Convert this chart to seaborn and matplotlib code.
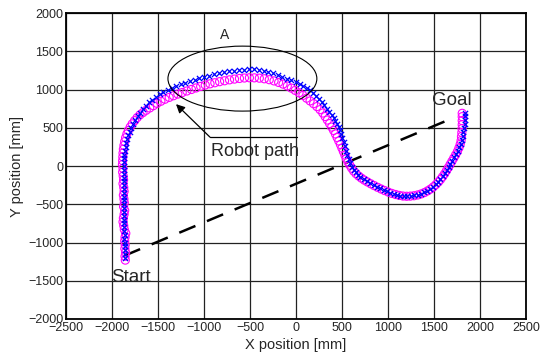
import matplotlib
matplotlib.use("Agg")
import matplotlib.pyplot as plt
from matplotlib.patches import Ellipse
import seaborn as sns
import pandas as pd

# ---- data ----
blue_x = [-1858,-1860,-1858,-1862,-1860,-1864,-1862,-1866,-1864,-1868,-1866,-1868,-1866,-1870,
          -1868,-1870,-1868,-1872,-1870,-1872,-1870,-1874,-1872,-1874,-1872,-1870,-1868,
          -1865,-1860,-1853,-1845,-1835,-1822,-1806,-1788,-1768,-1745,-1720,-1692,-1662,-1630,
          -1596,-1560,-1522,-1482,-1440,-1396,-1350,-1302,-1254,-1204,-1154,-1102,-1050,-998,
          -946,-892,-838,-784,-730,-676,-622,-568,-514,-460,-406,-352,-300,-250,-200,-150,-100,
          -50,0,40,80,118,156,190,222,254,283,310,336,360,391,410,428,446,464,478,492,505,518,
          530,542,554,572,591,609,627,650,674,699,735,770,808,845,880,916,953,990,1026,1062,
          1098,1135,1172,1210,1248,1285,1322,1358,1393,1428,1460,1490,1518,1545,1570,1594,1616,
          1638,1660,1680,1700,1720,1740,1760,1776,1790,1802,1812,1820,1828,1833,1837,1839,1840]
blue_y = [-1200,-1150,-1100,-1050,-1000,-950,-900,-850,-800,-750,-700,-650,-600,-550,
          -500,-450,-400,-350,-300,-250,-200,-150,-100,-50,0,50,100,
          150,200,250,300,350,400,450,500,550,600,650,700,745,790,
          832,870,905,938,968,996,1022,1046,1070,1092,1112,1132,1150,1168,
          1184,1200,1214,1226,1238,1248,1256,1262,1265,1264,1258,1248,1232,1212,1190,1166,1142,
          1120,1100,1078,1052,1022,991,956,918,878,839,796,752,708,665,624,584,548,513,466,418,367,317,
          260,200,143,88,35,-10,-52,-82,-112,-139,-168,-197,-226,-250,-272,-293,-313,-332,-350,-365,
          -378,-388,-394,-395,-391,-384,-374,-360,-342,-320,-296,-268,-238,-205,-170,-134,-96,
          -56,-14,30,72,114,156,200,246,294,344,396,448,500,552,604,656,700]

mag_x = [-1855,-1858,-1852,-1860,-1856,-1862,-1858,-1850,-1866,-1872,-1880,-1876,-1868,-1862,
         -1874,-1866,-1870,-1876,-1868,-1872,-1880,-1874,-1878,-1884,-1880,-1886,-1884,-1882,
         -1880,-1876,-1870,-1862,-1852,-1838,-1822,-1802,-1780,-1754,-1726,-1696,-1663,-1628,
         -1590,-1550,-1510,-1468,-1424,-1378,-1332,-1284,-1236,-1186,-1136,-1086,-1036,-986,
         -934,-882,-830,-776,-722,-668,-614,-560,-506,-452,-398,-344,-290,-238,-188,-140,-94,
         -50,-8,34,76,116,154,192,228,262,292,318,342,366,388,410,430,448,466,484,500,516,532,
         548,566,586,606,628,654,682,712,744,778,814,850,888,926,964,1004,1044,1084,1124,1164,
         1204,1244,1284,1324,1362,1398,1432,1464,1494,1522,1548,1572,1594,1616,1636,1656,1676,
         1696,1716,1736,1756,1772,1786,1796,1800,1804,1806,1808,1808,1808,1808]
mag_y = [-1230,-1180,-1130,-1080,-1030,-980,-930,-880,-830,-780,-730,-680,-630,-580,
         -530,-480,-430,-380,-330,-280,-230,-180,-130,-80,-30,20,70,120,
         170,220,270,320,370,420,465,510,552,594,634,670,700,730,
         760,790,820,848,874,898,920,942,962,982,1002,1022,1042,1060,
         1076,1090,1104,1116,1128,1138,1146,1152,1155,1154,1150,1142,1130,1114,1094,1072,1048,
         1020,990,958,924,888,852,816,778,738,694,648,602,556,510,466,420,374,328,282,236,190,144,
         98,54,12,-28,-66,-100,-130,-158,-184,-208,-232,-255,-278,-300,-320,-340,-358,-372,-384,-392,
         -395,-393,-388,-378,-364,-346,-324,-300,-272,-242,-210,-176,-140,-102,-62,-22,20,
         62,104,146,190,236,284,334,386,438,490,542,594,646,690]

start_goal_x = [-1870, 1730]
start_goal_y = [-1175, 640]

ellipse_center = (-582, 1144)
ellipse_width = 1619
ellipse_height = 850

pointer_x = [11, -935, -1304]
pointer_y = [379, 379, 810]

x_ticks = [-2500, -2000, -1500, -1000, -500, 0, 500, 1000, 1500, 2000, 2500]
y_ticks = [-2000, -1500, -1000, -500, 0, 500, 1000, 1500, 2000]

# ---- plot ----
sns.set_style("white")
plt.rcParams['font.family'] = ['Liberation Sans', 'DejaVu Sans']

fig = plt.figure(figsize=(5.41, 3.56), dpi=100)
ax = fig.add_axes([0.122, 0.104, 0.850, 0.859])

ax.grid(True, color='#222222', linewidth=0.9, zorder=0)
ax.set_axisbelow(True)

sg = pd.DataFrame({'x': start_goal_x, 'y': start_goal_y})
ax.plot(sg['x'], sg['y'], color='black', linewidth=1.8, dashes=(7, 5), zorder=2)

mag = pd.DataFrame({'x': mag_x, 'y': mag_y})
blue = pd.DataFrame({'x': blue_x, 'y': blue_y})
sns.scatterplot(data=mag, x='x', y='y', ax=ax, marker='o', s=34,
                facecolor='none', edgecolor='#ff00ff', linewidth=0.8, zorder=3)
sns.scatterplot(data=blue, x='x', y='y', ax=ax, marker='x', s=14,
                color='#0000ff', linewidth=0.9, zorder=4)

ax.add_patch(Ellipse(ellipse_center, ellipse_width, ellipse_height, fill=False,
                     edgecolor='black', linewidth=0.8, zorder=5))
ax.text(-772, 1712, 'A', fontsize=10, ha='center', va='center')

ax.plot(pointer_x[:2], pointer_y[:2], color='black', linewidth=0.9, zorder=5)
ax.annotate('', xy=(pointer_x[2], pointer_y[2]), xytext=(pointer_x[1], pointer_y[1]),
            arrowprops=dict(arrowstyle='-|>', color='black', lw=0.9,
                            mutation_scale=13, shrinkA=0, shrinkB=0), zorder=5)
ax.text(-446, 190, 'Robot path', fontsize=13, ha='center', va='center')
ax.text(-2010, -1455, 'Start', fontsize=13.5, ha='left', va='center')
ax.text(1475, 860, 'Goal', fontsize=13.5, ha='left', va='center')

ax.set_xlim(-2500, 2500)
ax.set_ylim(-2000, 2000)
ax.set_xticks(x_ticks)
ax.set_yticks(y_ticks)
ax.tick_params(labelsize=9, length=0, pad=2)
ax.set_xlabel('X position [mm]', fontsize=10.5, labelpad=3)
ax.set_ylabel('Y position [mm]', fontsize=10.5, labelpad=3)
for s in ax.spines.values():
    s.set_color('black')
    s.set_linewidth(1.3)

fig.savefig('out.png', dpi=100)
